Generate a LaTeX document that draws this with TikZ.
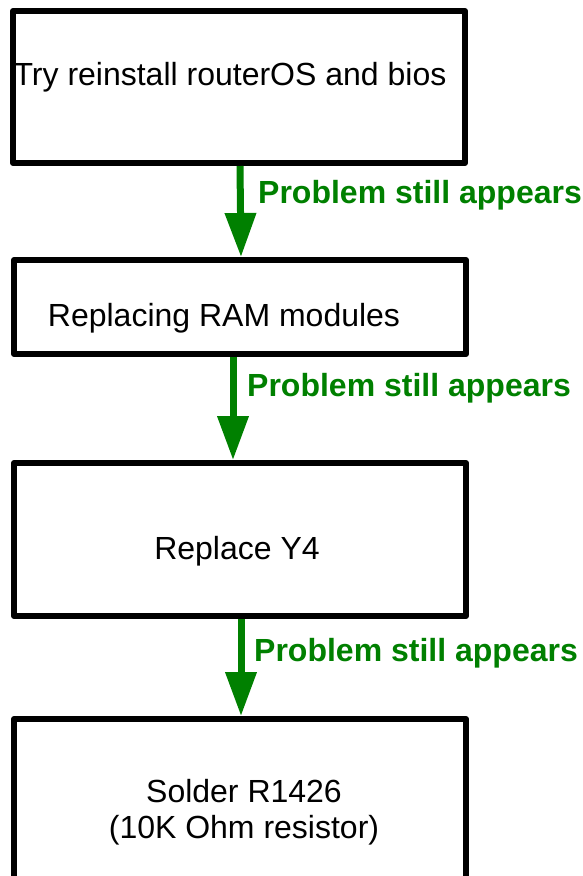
\documentclass[tikz,border=0pt]{standalone}
\usepackage{fontspec}
\setmainfont{Liberation Sans}
\usetikzlibrary{arrows.meta}
\definecolor{flowgreen}{RGB}{0,128,0}

\begin{document}
\begin{tikzpicture}[x=1pt,y=-1pt,
	box/.style={draw, line width=6pt, line join=round, minimum width=452pt, inner sep=0pt},
	txt/.style={font=\fontsize{32}{36}\selectfont, align=center, inner sep=0pt},
	flow/.style={draw=flowgreen, line width=7pt, -{Triangle[length=44pt,width=30pt]}},
	flowlabel/.style={text=flowgreen, font=\fontsize{32}{36}\selectfont\bfseries, anchor=west, inner sep=0pt}]
	
	\useasboundingbox (0,0) rectangle (583,876);
	
	%boxes
	\node[box, minimum height=152pt] (b1) at (239,87){};
	\node[box, minimum height=94pt] (b2) at (240,307){};
	\node[box, minimum height=153pt] (b3) at (240,539.5){};
	\node[box, minimum height=170pt] (b4) at (240,804){};
	
	%box texts
	\node[txt] (t1) at (230,77){Try reinstall routerOS and bios};
	\node[txt] (t2) at (224,318){Replacing RAM modules};
	\node[txt] (t3) at (237,551){Replace Y4};
	\node[txt] (t4) at (244,812){Solder R1426\\(10K Ohm resistor)};
	
	%arrows
	\draw[flow] ([xshift=1pt]b1.south) -- ([xshift=1pt]b2.north);
	\draw[flow] ([xshift=-7pt]b2.south) -- ([xshift=-7pt]b3.north);
	\draw[flow] ([xshift=1pt]b3.south) -- ([xshift=1pt]b4.north);
	
	%arrow labels
	\node[flowlabel] (l1) at (258,195){Problem still appears};
	\node[flowlabel] (l2) at (247,388){Problem still appears};
	\node[flowlabel] (l3) at (254,653){Problem still appears};
	
\end{tikzpicture}
\end{document}
